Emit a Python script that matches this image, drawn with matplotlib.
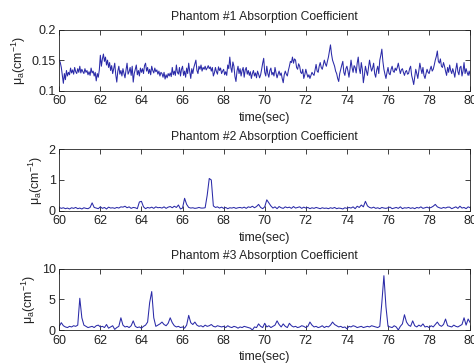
"""
Phantom absorption coefficient traces, three stacked panels (60-80 s).
"""
import numpy as np
import matplotlib
matplotlib.use("Agg")
import matplotlib.pyplot as plt

plt.rcParams["font.family"] = ["Liberation Sans", "DejaVu Sans"]
plt.rcParams["mathtext.default"] = "regular"

T_START, T_END = 60, 80

# phantom 1, sampled at 20 Hz (one row per second)
mu1 = [
    0.150, 0.146, 0.138, 0.125, 0.112, 0.128, 0.118, 0.133, 0.124, 0.130, 0.126, 0.137, 0.129, 0.134, 0.127, 0.138, 0.131, 0.128, 0.136, 0.130,
    0.140, 0.129, 0.135, 0.131, 0.128, 0.136, 0.130, 0.133, 0.126, 0.131, 0.125, 0.137, 0.129, 0.132, 0.124, 0.130, 0.116, 0.128, 0.122, 0.134,
    0.158, 0.140, 0.152, 0.160, 0.148, 0.155, 0.142, 0.150, 0.138, 0.146, 0.133, 0.141, 0.128, 0.136, 0.145, 0.126, 0.114, 0.132, 0.140, 0.127,
    0.133, 0.124, 0.136, 0.128, 0.121, 0.134, 0.145, 0.127, 0.131, 0.138, 0.125, 0.140, 0.114, 0.128, 0.135, 0.142, 0.126, 0.133, 0.124, 0.137,
    0.130, 0.136, 0.128, 0.141, 0.145, 0.132, 0.138, 0.128, 0.135, 0.126, 0.140, 0.133, 0.129, 0.137, 0.131, 0.134, 0.127, 0.132, 0.124, 0.130,
    0.128, 0.122, 0.130, 0.119, 0.126, 0.121, 0.128, 0.124, 0.129, 0.123, 0.138, 0.126, 0.132, 0.125, 0.142, 0.130, 0.127, 0.138, 0.124, 0.135,
    0.140, 0.125, 0.132, 0.122, 0.137, 0.128, 0.145, 0.131, 0.120, 0.136, 0.128, 0.138, 0.144, 0.150, 0.133, 0.128, 0.140, 0.135, 0.142, 0.132,
    0.138, 0.135, 0.140, 0.134, 0.137, 0.141, 0.136, 0.139, 0.132, 0.138, 0.124, 0.129, 0.138, 0.131, 0.127, 0.139, 0.133, 0.137, 0.128, 0.132,
    0.135, 0.126, 0.131, 0.125, 0.142, 0.136, 0.155, 0.138, 0.130, 0.147, 0.140, 0.123, 0.115, 0.132, 0.140, 0.128, 0.136, 0.124, 0.133, 0.138,
    0.122, 0.134, 0.138, 0.127, 0.133, 0.125, 0.131, 0.120, 0.128, 0.133, 0.124, 0.129, 0.121, 0.132, 0.127, 0.121, 0.126, 0.135, 0.145, 0.153,
    0.130, 0.124, 0.140, 0.128, 0.122, 0.133, 0.137, 0.126, 0.130, 0.124, 0.138, 0.129, 0.121, 0.127, 0.132, 0.125, 0.129, 0.120, 0.113, 0.126,
    0.132, 0.127, 0.124, 0.133, 0.140, 0.148, 0.146, 0.155, 0.145, 0.152, 0.150, 0.138, 0.135, 0.144, 0.140, 0.130, 0.128, 0.135, 0.120, 0.126,
    0.135, 0.128, 0.122, 0.126, 0.120, 0.125, 0.130, 0.127, 0.125, 0.134, 0.143, 0.132, 0.130, 0.140, 0.146, 0.138, 0.135, 0.142, 0.150, 0.144,
    0.140, 0.148, 0.155, 0.165, 0.175, 0.160, 0.150, 0.145, 0.140, 0.132, 0.128, 0.120, 0.115, 0.128, 0.135, 0.142, 0.148, 0.130, 0.125, 0.136,
    0.140, 0.132, 0.122, 0.135, 0.150, 0.138, 0.130, 0.141, 0.138, 0.129, 0.145, 0.155, 0.136, 0.128, 0.146, 0.135, 0.113, 0.125, 0.140, 0.132,
    0.125, 0.138, 0.150, 0.140, 0.132, 0.137, 0.145, 0.128, 0.122, 0.134, 0.140, 0.128, 0.150, 0.158, 0.168, 0.148, 0.135, 0.127, 0.120, 0.130,
    0.138, 0.128, 0.126, 0.135, 0.140, 0.132, 0.130, 0.137, 0.133, 0.138, 0.145, 0.136, 0.128, 0.134, 0.136, 0.130, 0.125, 0.131, 0.133, 0.127,
    0.128, 0.136, 0.140, 0.125, 0.118, 0.110, 0.122, 0.135, 0.128, 0.120, 0.132, 0.145, 0.136, 0.128, 0.138, 0.125, 0.120, 0.128, 0.135, 0.130,
    0.128, 0.135, 0.140, 0.132, 0.135, 0.142, 0.150, 0.156, 0.165, 0.148, 0.145, 0.152, 0.140, 0.138, 0.146, 0.140, 0.132, 0.125, 0.138, 0.130,
    0.142, 0.133, 0.128, 0.136, 0.130, 0.122, 0.135, 0.145, 0.131, 0.126, 0.138, 0.140, 0.124, 0.132, 0.146, 0.128, 0.136, 0.130, 0.125, 0.132,
    0.125,
]

# phantom 2, sampled at 10 Hz
mu2 = [
    0.10, 0.07, 0.09, 0.06, 0.08, 0.05, 0.09, 0.07, 0.10, 0.06,
    0.08, 0.05, 0.09, 0.07, 0.06, 0.10, 0.25, 0.10, 0.08, 0.06,
    0.12, 0.07, 0.10, 0.05, 0.11, 0.08, 0.09, 0.07, 0.10, 0.08,
    0.12, 0.11, 0.14, 0.09, 0.12, 0.07, 0.10, 0.09, 0.06, 0.28,
    0.30, 0.12, 0.06, 0.10, 0.08, 0.11, 0.07, 0.12, 0.09, 0.10,
    0.08, 0.12, 0.07, 0.11, 0.13, 0.09, 0.14, 0.10, 0.18, 0.05,
    0.08, 0.40, 0.20, 0.10, 0.08, 0.09, 0.07, 0.08, 0.10, 0.08,
    0.08, 0.09, 0.50, 1.05, 1.00, 0.15, 0.10, 0.12, 0.08, 0.11,
    0.07, 0.10, 0.06, 0.09, 0.08, 0.10, 0.07, 0.09, 0.10, 0.08,
    0.11, 0.07, 0.12, 0.10, 0.14, 0.09, 0.13, 0.20, 0.10, 0.06,
    0.12, 0.35, 0.25, 0.15, 0.08, 0.12, 0.06, 0.13, 0.09, 0.07,
    0.12, 0.09, 0.11, 0.07, 0.13, 0.08, 0.10, 0.12, 0.07, 0.11,
    0.08, 0.10, 0.06, 0.09, 0.07, 0.10, 0.08, 0.06, 0.09, 0.07,
    0.08, 0.06, 0.09, 0.07, 0.10, 0.06, 0.08, 0.07, 0.05, 0.09,
    0.07, 0.10, 0.08, 0.12, 0.06, 0.14, 0.10, 0.18, 0.12, 0.30,
    0.15, 0.10, 0.08, 0.11, 0.07, 0.09, 0.06, 0.10, 0.08, 0.07,
    0.09, 0.11, 0.06, 0.08, 0.10, 0.07, 0.12, 0.06, 0.09, 0.08,
    0.10, 0.07, 0.09, 0.06, 0.10, 0.08, 0.12, 0.07, 0.09, 0.11,
    0.08, 0.10, 0.14, 0.20, 0.12, 0.09, 0.07, 0.10, 0.08, 0.11,
    0.11, 0.06, 0.09, 0.12, 0.07, 0.14, 0.08, 0.10, 0.06, 0.12,
    0.09,
]

# phantom 3, sampled at 10 Hz
mu3 = [
    0.6, 1.2, 0.7, 0.5, 0.4, 0.6, 0.5, 0.7, 0.6, 0.8,
    5.2, 2.0, 0.8, 0.6, 0.4, 0.5, 0.6, 0.4, 0.7, 0.8,
    0.5, 0.6, 0.4, 0.9, 0.3, 0.5, 0.7, 0.1, 0.4, 0.6,
    2.0, 0.8, 0.5, 0.6, 0.4, 0.7, 1.5, 0.6, 0.4, 0.5,
    0.3, 0.6, 0.8, 1.3, 4.5, 6.3, 2.0, 0.6, 0.8, 1.0,
    1.3, 0.9, 0.7, 1.1, 2.0, 1.2, 0.7, 0.5, 0.6, 0.4,
    0.5, 0.3, 0.8, 2.4, 1.2, 0.9, 1.3, 0.8, 0.6, 0.7,
    0.5, 0.8, 0.6, 0.7, 0.9, 0.6, 0.5, 0.7, 0.6, 0.5,
    0.6, 0.4, 0.7, 0.5, 0.4, 0.6, 0.5, 0.3, 0.5, 0.4,
    0.6, 0.5, 0.4, 0.3, 0.0, 0.5, 0.4, 1.0, 0.6, 0.4,
    1.1, 0.5, 0.7, 0.4, 0.6, 0.8, 1.5, 0.9, 0.5, 1.0,
    0.6, 0.4, 1.1, 0.7, 0.5, 0.6, 0.4, 0.5, 0.7, 0.6,
    0.4, 0.6, 1.3, 0.8, 0.5, 0.6, 0.4, 0.5, 0.7, 0.4,
    0.6, 0.5, 0.8, 1.3, 0.9, 0.7, 0.5, 0.6, 0.4, 0.5,
    0.2, 0.6, 0.5, 0.7, 0.6, 0.4, 0.5, 0.6, 0.4, 0.5,
    0.6, 0.5, 0.7, 0.6, 0.5, 0.4, 0.6, 4.5, 8.9, 3.8,
    0.6, 0.5, 0.4, 0.7, 0.5, 0.0, 0.6, 1.0, 2.5, 1.3,
    0.8, 0.6, 1.5, 0.7, 0.5, 0.8, 0.6, 1.0, 0.5, 0.6,
    0.4, 0.7, 0.5, 0.9, 1.3, 0.8, 0.6, 0.9, 1.8, 0.7,
    0.6, 0.5, 0.8, 0.6, 0.5, 0.7, 0.9, 2.0, 0.8, 1.8,
    1.2,
]

PANELS = [
    ("Phantom #1 Absorption Coefficient", mu1, (0.1, 0.2), [0.1, 0.15, 0.2], ["0.1", "0.15", "0.2"]),
    ("Phantom #2 Absorption Coefficient", mu2, (0, 2), [0, 1, 2], ["0", "1", "2"]),
    ("Phantom #3 Absorption Coefficient", mu3, (0, 10), [0, 5, 10], ["0", "5", "10"]),
]
XTICKS = list(range(60, 81, 2))

LINE = "#2a2aa8"
FS = 9
INK = "#222222"

fig = plt.figure(figsize=(4.74, 3.64), dpi=100)
bottoms = [0.751, 0.4217, 0.0934]
for (title, mu, ylim, yt, ytl), b in zip(PANELS, bottoms):
    ax = fig.add_axes([0.125, b, 0.867, 0.1676])
    t = np.linspace(T_START, T_END, len(mu))
    ax.plot(t, mu, color=LINE, lw=0.75)
    ax.set_xlim(T_START, T_END)
    ax.set_ylim(*ylim)
    ax.set_xticks(XTICKS)
    ax.set_xticklabels([str(v) for v in XTICKS])
    ax.set_yticks(yt)
    ax.set_yticklabels(ytl)
    ax.tick_params(direction="in", top=True, right=True, length=3.5, width=0.6,
                   labelsize=FS, colors=INK)
    ax.tick_params(axis="x", pad=3.5)
    ax.tick_params(axis="y", pad=2.5)
    for s in ax.spines.values():
        s.set_linewidth(0.6)
        s.set_color(INK)
    ax.set_title(title, fontsize=8.7, pad=7, color=INK)
    ax.set_xlabel("time(sec)", fontsize=FS, labelpad=3, color=INK)
    ax.set_ylabel("μ$_a$(cm$^{-1}$)", fontsize=FS, labelpad=2.5, color=INK)

fig.savefig("out.png", dpi=100, facecolor="white")
